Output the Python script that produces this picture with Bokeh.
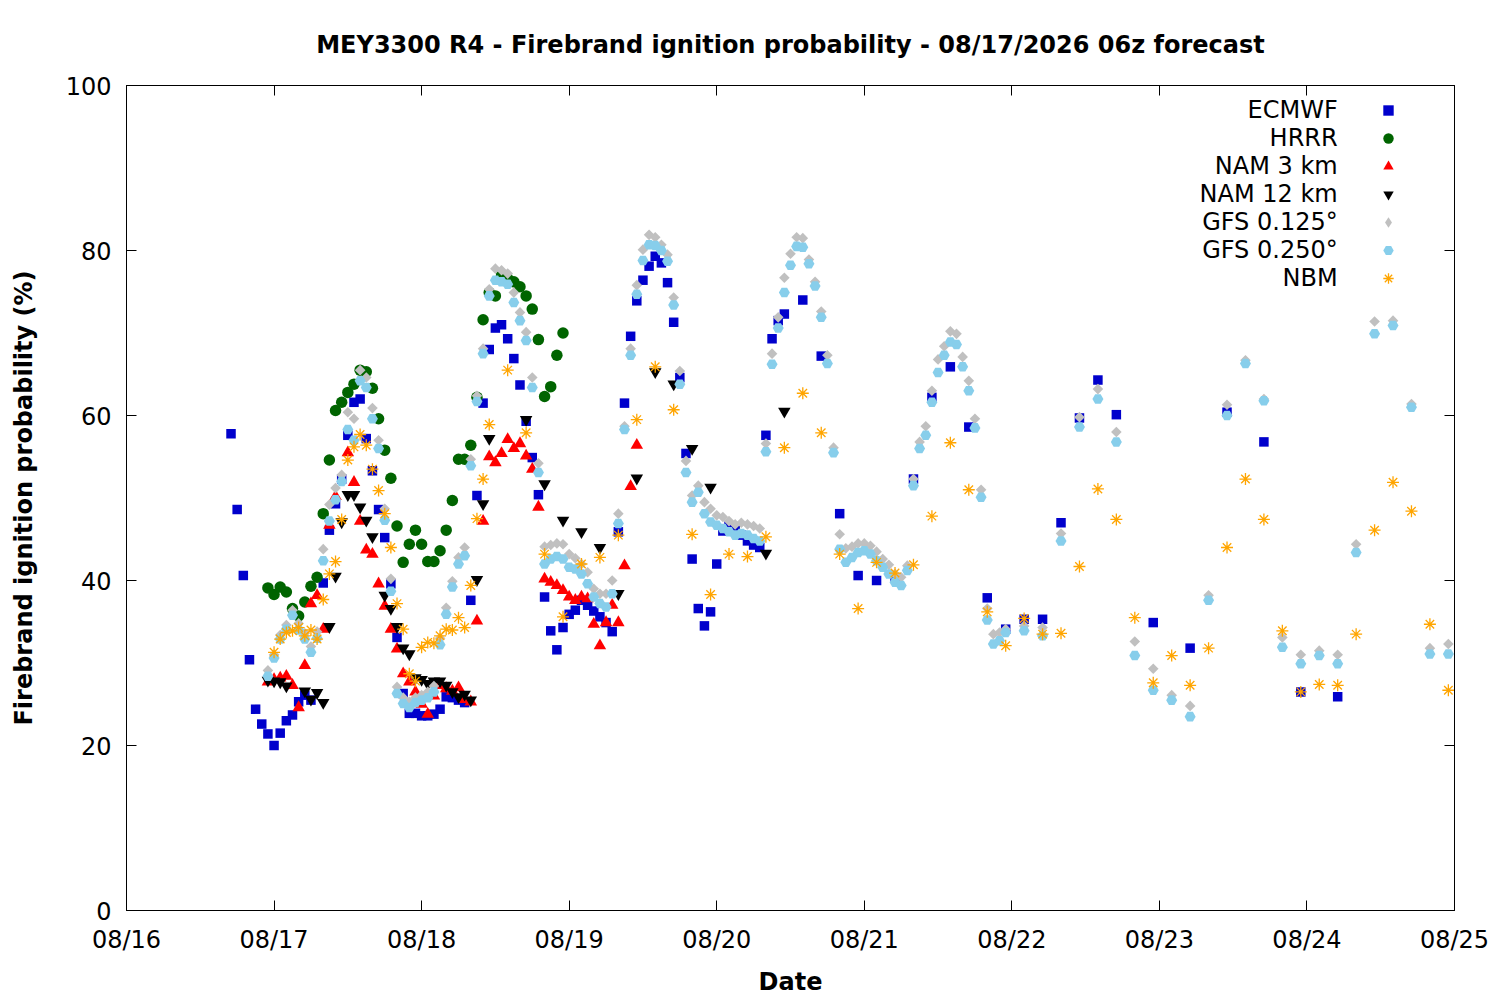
import math
from bokeh.plotting import figure
from bokeh.models import (ColumnDataSource, FixedTicker, LinearAxis, Legend,
                          LegendItem, Label, Range1d)
from bokeh.embed import file_html
from bokeh.resources import INLINE

NaN = float("nan")

TITLE = "MEY3300 R4 - Firebrand ignition probability - 08/17/2026 06z forecast"
X_LABEL = "Date"
Y_LABEL = "Firebrand ignition probability (%)"
DAY_LABELS = ["08/16", "08/17", "08/18", "08/19", "08/20",
              "08/21", "08/22", "08/23", "08/24", "08/25"]
Y_TICKS = [0, 20, 40, 60, 80, 100]
SERIES_NAMES = ["ECMWF", "HRRR", "NAM 3 km", "NAM 12 km",
                "GFS 0.125°", "GFS 0.250°", "NBM"]

# valid times: hours after 08/16 00:00
ecmwf_hours = list(range(17, 108)) + list(range(110, 162, 3)) + list(range(167, 198, 6))
ecmwf_vals = [
    57.8, 48.6, 40.6, 30.4, 24.4, 22.6, 21.4, 20.0, 21.5, 23.0,
    23.7, 25.3, 26.1, 25.5, NaN, 39.7, 46.1, 49.3, 52.3, 57.6,
    61.6, 62.0, 57.2, 53.3, 48.6, 45.2, 39.6, 33.1, 26.3, 23.9,
    23.9, 23.6, 23.6, 23.8, 24.4, 25.9, 25.8, 25.5, 25.2, 37.6,
    50.3, 61.5, 68.0, 70.6, 71.0, 69.3, 66.9, 63.7, 59.3, 54.9,
    50.4, 38.0, 33.9, 31.6, 34.3, 35.9, 36.4, 37.6, 37.0, 36.3,
    35.6, 34.9, 33.8, 45.9, 61.5, 69.6, 73.9, 76.4, 78.1, 79.3,
    78.5, 76.1, 71.3, 64.6, 55.4, 42.6, 36.6, 34.5, 36.2, 42.0,
    46.0, 46.6, 46.3, 45.5, 44.8, 44.3, 44.0, 57.6, 69.3, 71.5,
    72.3,
    74.0, 67.2, 48.1, 40.6, 40.0, 40.3, 52.3, 62.2, 65.9, 58.6,
    37.9, 34.1, 35.3, 35.3, 47.0, 59.7, 64.3, 60.1,
    34.9, 31.8, 60.4, 56.8, 26.5, 25.9,
]

hrrr_hours = list(range(23, 72))
hrrr_vals = [
    39.1, 38.3, 39.2, 38.6, 36.6, 35.7, 37.4, 39.3, 40.4, 48.1,
    54.6, 60.6, 61.6, 62.8, 63.8, 65.5, 65.3, 63.3, 59.6, 55.8,
    52.4, 46.6, 42.2, 44.4, 46.1, 44.4, 42.3, 42.3, 43.6, 46.1,
    49.7, 54.7, 54.7, 56.4, 62.2, 71.6, 74.9, 74.5, 77.0, 76.6,
    76.2, 75.6, 74.5, 72.9, 69.2, 62.3, 63.5, 67.3, 70.0,
]

nam3_hours = list(range(23, 84))
nam3_vals = [
    27.7, 28.0, 28.2, 28.4, 27.3, 24.6, 29.7, 37.2, 38.2, 34.1,
    46.7, 50.2, NaN, 55.5, 51.9, 47.2, 43.7, 43.2, 39.6, 36.9,
    34.1, 31.7, 28.7, 27.7, 26.5, 25.0, 23.8, 26.0, 27.3, 26.9,
    26.6, 27.0, 25.6, 25.3, 35.1, 47.2, 55.0, 54.3, 55.4, 57.1,
    56.0, 56.6, 55.1, 53.5, 48.9, 40.2, 39.8, 39.4, 38.8, 38.0,
    37.6, 38.0, 37.8, 34.7, 32.1, 34.9, 37.0, 34.9, 41.8, 51.4, 56.4,
]

nam12_hours = list(range(23, 60)) + list(range(62, 108, 3))
nam12_vals = [
    27.9, 27.8, 27.7, 27.2, NaN, NaN, 26.6, 25.6, 26.4, 25.2,
    34.4, 40.5, 47.1, 50.4, 50.4, 48.9, 47.3, 45.3, NaN, 38.2,
    36.6, 34.4, 31.8, 31.1, 28.2, 28.0, 27.5, 27.8, 27.8, 27.3,
    26.5, 25.9, 26.2, 25.5, 40.1, 49.3, 57.2,
    NaN, 59.5, 51.7, 47.3, 45.9, 44.0, 38.4, 52.4, 65.3, 63.8,
    56.0, 51.3, NaN, NaN, 43.3, 60.5,
]

gfs_hours = list(range(23, 144)) + list(range(146, 216, 3))
gfs0125_vals = [
    29.1, 31.0, 33.4, 34.6, 36.4, 34.8, 33.6, 32.0, 33.8, 43.8,
    49.2, 51.2, 52.8, 60.4, 59.6, 65.5, 64.6, 60.9, 57.0, 48.7,
    40.2, 27.1, 25.8, 25.3, 25.8, 26.1, 26.5, 27.2, 33.0, 36.7,
    39.9, 42.8, 44.0, 54.7, 62.4, 68.1, 75.3, 77.8, 77.6, 77.2,
    74.9, 72.5, 70.1, 64.6, 54.2, 44.1, 44.3, 44.5, 44.4, 43.2,
    42.7, 42.0, 41.0, 39.0, 38.4, 38.4, 40.0, 48.1, 58.7, 68.1,
    75.8, 80.1, 81.9, 81.6, 80.7, 79.5, 74.3, 65.4, 54.5, 50.3,
    51.5, 49.5, 48.7, 47.9, 47.7, 47.2, 46.8, 47.0, 46.8, 46.6,
    46.3, 56.6, 67.5, 71.9, 76.7, 79.6, 81.6, 81.5, 78.9, 76.2,
    72.6, 67.3, 56.1, 45.6, 43.9, 44.1, 44.5, 44.5, 44.2, 43.5,
    42.6, 41.9, 40.8, 40.4, 41.8, 52.3, 56.8, 58.7, 63.0, 66.8,
    68.4, 70.2, 69.9, 67.1, 64.2, 59.6, 51.0, 36.6, 33.5, 33.7, 34.1,
    34.5, 34.3, 45.7, 59.8, 63.2, 58.0, 32.6, 29.3, 26.1, 24.8,
    38.2, 61.3, 66.7, 62.0, 33.1, 31.0, 31.5, 31.0, 44.4, 71.4,
    71.5, 61.4, 31.8, 32.3,
]
gfs0250_vals = [
    28.4, 30.6, 32.9, 34.1, 35.8, 34.0, 32.9, 31.3, 33.0, 42.4,
    47.2, 49.8, 52.0, 58.3, 57.0, 64.2, 63.4, 59.6, 56.0, 47.3,
    38.7, 26.3, 25.1, 24.6, 25.2, 25.5, 25.8, 26.5, 32.2, 35.9,
    39.2, 42.0, 43.0, 53.9, 61.7, 67.5, 74.5, 76.4, 76.2, 75.9,
    73.7, 71.5, 69.1, 63.4, 53.1, 42.0, 42.6, 42.9, 42.6, 41.6,
    41.4, 40.8, 39.6, 38.0, 37.2, 36.8, 38.4, 46.9, 58.3, 67.3,
    74.7, 78.8, 80.7, 80.6, 80.0, 78.7, 73.4, 63.8, 53.1, 49.5,
    50.7, 48.1, 47.1, 46.7, 46.3, 45.9, 45.5, 45.7, 45.5, 45.1,
    44.8, 55.6, 66.2, 70.6, 74.9, 78.2, 80.5, 80.4, 78.4, 75.7,
    71.9, 66.3, 55.5, 43.8, 42.2, 42.8, 43.4, 43.6, 43.2, 42.4,
    41.6, 40.8, 39.8, 39.4, 41.2, 51.5, 56.0, 57.6, 61.6, 65.2,
    67.3, 68.9, 68.6, 65.9, 63.0, 58.5, 50.1, 35.2, 32.3, 32.7, 33.7,
    33.9, 33.3, 44.8, 58.6, 62.0, 56.8, 30.9, 26.7, 25.5, 23.5,
    37.6, 60.0, 66.3, 61.8, 31.9, 29.9, 30.9, 29.9, 43.4, 69.9,
    70.9, 61.0, 31.1, 31.1,
]

nbm_hours = list(range(24, 60)) + list(range(62, 216, 3))
nbm_vals = [
    31.3, 32.9, 33.7, 33.9, 34.3, 33.3, 34.0, 32.9, 37.7, 40.8,
    42.3, 47.4, 54.6, 56.2, 57.7, 56.4, 53.5, 50.9, 48.1, 44.0,
    37.2, 34.1, 28.7, 27.8, 31.9, 32.5, 32.4, 33.3, 34.1, 34.0,
    35.5, 34.3, 39.4, 47.5, 52.3, 58.9,
    65.5, 57.9, 43.2, 35.6, 42.0, 42.8, 45.5, 59.5, 65.9, 60.7,
    45.6, 38.3, 43.2, 42.9, 45.3, 56.1, 62.7, 57.9, 43.2, 36.6,
    42.2, 40.9, 41.9, 47.8, 56.7, 51.0, 36.2, 32.1, 35.4, 33.5,
    33.6, 41.7, 51.1, 47.4, 35.5, 27.6, 30.9, 27.3, 31.8, 44.0,
    52.3, 47.4, 33.9, 26.5, 27.4, 27.3, 33.5, 46.1, 51.9, 48.4,
    34.7, 26.7,
]

series = [
    (ecmwf_hours, ecmwf_vals),
    (hrrr_hours, hrrr_vals),
    (nam3_hours, nam3_vals),
    (nam12_hours, nam12_vals),
    (gfs_hours, gfs0125_vals),
    (gfs_hours, gfs0250_vals),
    (nbm_hours, nbm_vals),
]
for name, (h, v) in zip(SERIES_NAMES, series):
    if len(h) != len(v):
        raise SystemExit(f"length mismatch {name}: {len(h)} hours vs {len(v)} values")

FONT = "DejaVu Sans"
FS = "24px"

p = figure(width=1496, height=998, x_range=Range1d(0, 216), y_range=Range1d(0, 100),
           output_backend="svg", toolbar_location=None,
           min_border_left=126, min_border_right=42, min_border_top=85, min_border_bottom=88,
           title=TITLE)
p.background_fill_color = "white"
p.border_fill_color = "white"
p.outline_line_color = "black"
p.outline_line_width = 1
p.grid.visible = False

p.title.align = "center"
p.title.text_font = FONT
p.title.text_font_size = FS
p.title.text_font_style = "bold"
p.title.text_color = "black"
p.title.standoff = 53

day_ticks = [24 * i for i in range(len(DAY_LABELS))]

def style_axis(ax, show_labels=True):
    ax.axis_line_color = "black"
    ax.major_tick_line_color = "black"
    ax.major_tick_in = 10
    ax.major_tick_out = 0
    ax.minor_tick_line_color = None
    ax.major_label_text_font = FONT
    ax.axis_label_text_font = FONT
    ax.axis_label_text_font_size = FS
    ax.axis_label_text_font_style = "bold"
    ax.axis_label_text_color = "black"
    if show_labels:
        ax.major_label_text_font_size = FS
        ax.major_label_text_color = "black"
    else:
        ax.major_label_text_font_size = "0px"
        ax.major_label_text_color = None
        ax.major_label_standoff = 0

xa = p.xaxis[0]
xa.ticker = FixedTicker(ticks=day_ticks)
xa.major_label_overrides = {t: lab for t, lab in zip(day_ticks, DAY_LABELS)}
xa.axis_label = X_LABEL
style_axis(xa)
xa.major_label_standoff = 15
xa.axis_label_standoff = 11

ya = p.yaxis[0]
ya.ticker = FixedTicker(ticks=Y_TICKS)
ya.axis_label = Y_LABEL
style_axis(ya)
ya.major_label_standoff = 15
ya.axis_label_standoff = 25

ra = LinearAxis(ticker=FixedTicker(ticks=Y_TICKS))
style_axis(ra, show_labels=False)
p.add_layout(ra, "right")
ta = LinearAxis(ticker=FixedTicker(ticks=day_ticks))
style_axis(ta, show_labels=False)
p.add_layout(ta, "above")

styles = [
    dict(marker="square", size=9.5, fill_color="#0000cc", line_color=None),
    dict(marker="circle", size=11.5, fill_color="#006400", line_color=None),
    dict(marker="triangle", size=12.5, fill_color="#ff0000", line_color=None),
    dict(marker="inverted_triangle", size=12.5, fill_color="#000000", line_color=None),
    dict(marker="square", size=7.5, angle=math.pi / 4, fill_color="#c0c0c0", line_color=None),
    dict(marker="hex", size=11, fill_color="#87ceeb", line_color=None),
    dict(marker="asterisk", size=12, line_color="#ffa500", line_width=1.3),
]

renderers = []
for (h, v), st in zip(series, styles):
    src = ColumnDataSource(data=dict(x=h, y=v))
    r = p.scatter(x="x", y="y", source=src, **st)
    renderers.append(r)

# the legend draws markers unrotated, so the GFS 0.125° key uses a diamond symbol
diamond_key = p.scatter(x=[NaN], y=[NaN], marker="diamond", size=12,
                        fill_color="#c0c0c0", line_color=None)
legend_renderers = list(renderers)
legend_renderers[4] = diamond_key

legend = Legend(items=[LegendItem(label="", renderers=[r]) for r in legend_renderers],
                location=(1249, 618), padding=0, margin=0, spacing=0,
                glyph_width=26, glyph_height=28, label_height=28, label_width=0,
                label_standoff=0, border_line_color=None, background_fill_alpha=0)
p.add_layout(legend)

# legend texts, right-aligned to the left of the legend symbols
legend_text_x = 197.0
row_step = 28 / 8.25
for i, name in enumerate(SERIES_NAMES):
    p.add_layout(Label(x=legend_text_x, y=97.0 - i * row_step, text=name,
                       text_align="right", text_baseline="middle",
                       text_font=FONT, text_font_size=FS, text_color="black"))

open("out.html", "w").write(file_html(p, INLINE))
